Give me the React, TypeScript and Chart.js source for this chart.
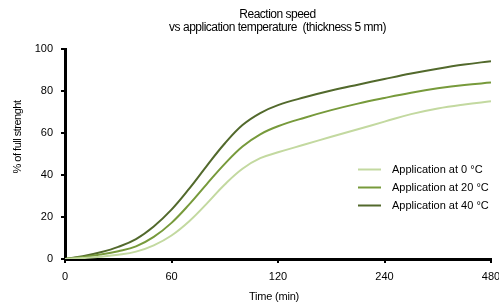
import React, { useEffect, useRef } from "react";
import { Chart, registerables } from "chart.js";

Chart.register(...registerables);

const titleLines = ["Reaction speed", "vs application temperature  (thickness 5 mm)"];
const yTitle = "% of full strenght";
const xTitle = "Time (min)";
const tickMinutes = [0, 60, 120, 240, 480];
const tickLabels = ["0", "60", "120", "240", "480"];
const yTicks = [0, 20, 40, 60, 80, 100];

const times = [0, 10, 20, 30, 40, 50, 60, 70, 80, 90, 100, 110, 120, 150, 180, 210, 240, 300, 360, 420, 480];
const app0 = [0, 0.5, 1.1, 2.0, 3.5, 6.5, 11.2, 18.0, 26.5, 35.5, 43.0, 48.0, 50.8, 54.5, 58.2, 61.8, 65.4, 69.0, 71.7, 73.6, 75.1];
const app20 = [0, 0.9, 2.1, 3.7, 6.0, 10.5, 17.2, 26.0, 35.8, 45.3, 53.6, 59.4, 63.2, 67.3, 70.9, 74.0, 76.7, 79.2, 81.3, 82.9, 84.0];
const app40 = [0, 1.3, 3.2, 5.8, 9.5, 15.5, 23.5, 33.5, 44.5, 55.0, 63.8, 69.5, 73.3, 77.0, 80.2, 83.0, 85.7, 88.3, 90.6, 92.6, 94.2];

const seriesLabels = ["Application at 0 °C", "Application at 20 °C", "Application at 40 °C"];
const seriesColors = ["#c3d9a0", "#779a3b", "#52692c"];

function toAxis(t: number): number {
  for (let i = 0; i < tickMinutes.length - 1; i++) {
    if (t <= tickMinutes[i + 1]) {
      return i + (t - tickMinutes[i]) / (tickMinutes[i + 1] - tickMinutes[i]);
    }
  }
  return tickMinutes.length - 1;
}

const FONT = "'Liberation Sans', Arial, sans-serif";

export default function App() {
  const ref = useRef<HTMLCanvasElement | null>(null);
  useEffect(() => {
    document.body.style.margin = "0";
    const ctx = ref.current!;
    const overlay = {
      id: "overlay",
      afterDraw(chart: any) {
        const c = chart.ctx;
        c.save();
        c.fillStyle = "#000";
        c.textAlign = "center";
        c.textBaseline = "middle";
        c.font = `12px ${FONT}`;
        (c as any).letterSpacing = "-0.5px";
        c.fillText(titleLines[0], 277.5, 15);
        c.fillText(titleLines[1], 277.5, 28);
        c.font = `11px ${FONT}`;
        (c as any).letterSpacing = "-0.2px";
        c.fillText(xTitle, 274, 297);
        c.save();
        (c as any).letterSpacing = "-0.5px";
        c.translate(17.5, 137);
        c.rotate(-Math.PI / 2);
        c.fillText(yTitle, 0, 0);
        c.restore();
        // legend
        (c as any).letterSpacing = "0px";
        c.textAlign = "left";
        chart.data.datasets.forEach((ds: any, i: number) => {
          const y = 169.5 + i * 18;
          c.strokeStyle = ds.borderColor;
          c.lineWidth = 2;
          c.beginPath();
          c.moveTo(358, y);
          c.lineTo(381, y);
          c.stroke();
          c.fillStyle = "#000";
          c.fillText(ds.label, 392, y);
        });
        c.restore();
      },
    };
    const chart = new Chart(ctx, {
      type: "line",
      data: {
        datasets: [app0, app20, app40].map((arr, k) => ({
          label: seriesLabels[k],
          data: times.map((t, j) => ({ x: toAxis(t), y: arr[j] })),
          borderColor: seriesColors[k],
          backgroundColor: seriesColors[k],
          borderWidth: 2,
          pointRadius: 0,
          tension: 0.4,
        })),
      },
      options: {
        animation: false,
        responsive: false,
        maintainAspectRatio: false,
        layout: { padding: { left: 0, right: 19, top: 49, bottom: 0 } },
        plugins: { legend: { display: false }, title: { display: false }, tooltip: { enabled: false } },
        scales: {
          x: {
            type: "linear",
            min: 0,
            max: tickMinutes.length - 1,
            afterBuildTicks: (s: any) => {
              s.ticks = tickLabels.map((_, i) => ({ value: i }));
            },
            afterFit: (s: any) => {
              s.height = 48;
            },
            ticks: {
              callback: (v: any) => tickLabels[v as number] ?? "",
              font: { family: FONT, size: 11 },
              color: "#000",
              maxRotation: 0,
              padding: 7,
            },
            grid: { display: true, drawOnChartArea: false, drawTicks: true, tickLength: 4, color: "#000", lineWidth: 2 },
            border: { display: true, color: "#000", width: 3 },
          },
          y: {
            min: 0,
            max: 100,
            afterBuildTicks: (s: any) => {
              s.ticks = yTicks.map((v) => ({ value: v }));
            },
            afterFit: (s: any) => {
              s.width = 65;
            },
            ticks: {
              font: { family: FONT, size: 11 },
              color: "#000",
              padding: 8,
            },
            grid: { display: true, drawOnChartArea: false, drawTicks: true, tickLength: 4, color: "#000", lineWidth: 2 },
            border: { display: true, color: "#000", width: 3 },
          },
        },
      },
      plugins: [overlay],
    });
    return () => chart.destroy();
  }, []);
  return (
    <div style={{ width: 499, height: 307, overflow: "hidden" }}>
      <canvas ref={ref} width={510} height={307} style={{ display: "block" }} />
    </div>
  );
}
